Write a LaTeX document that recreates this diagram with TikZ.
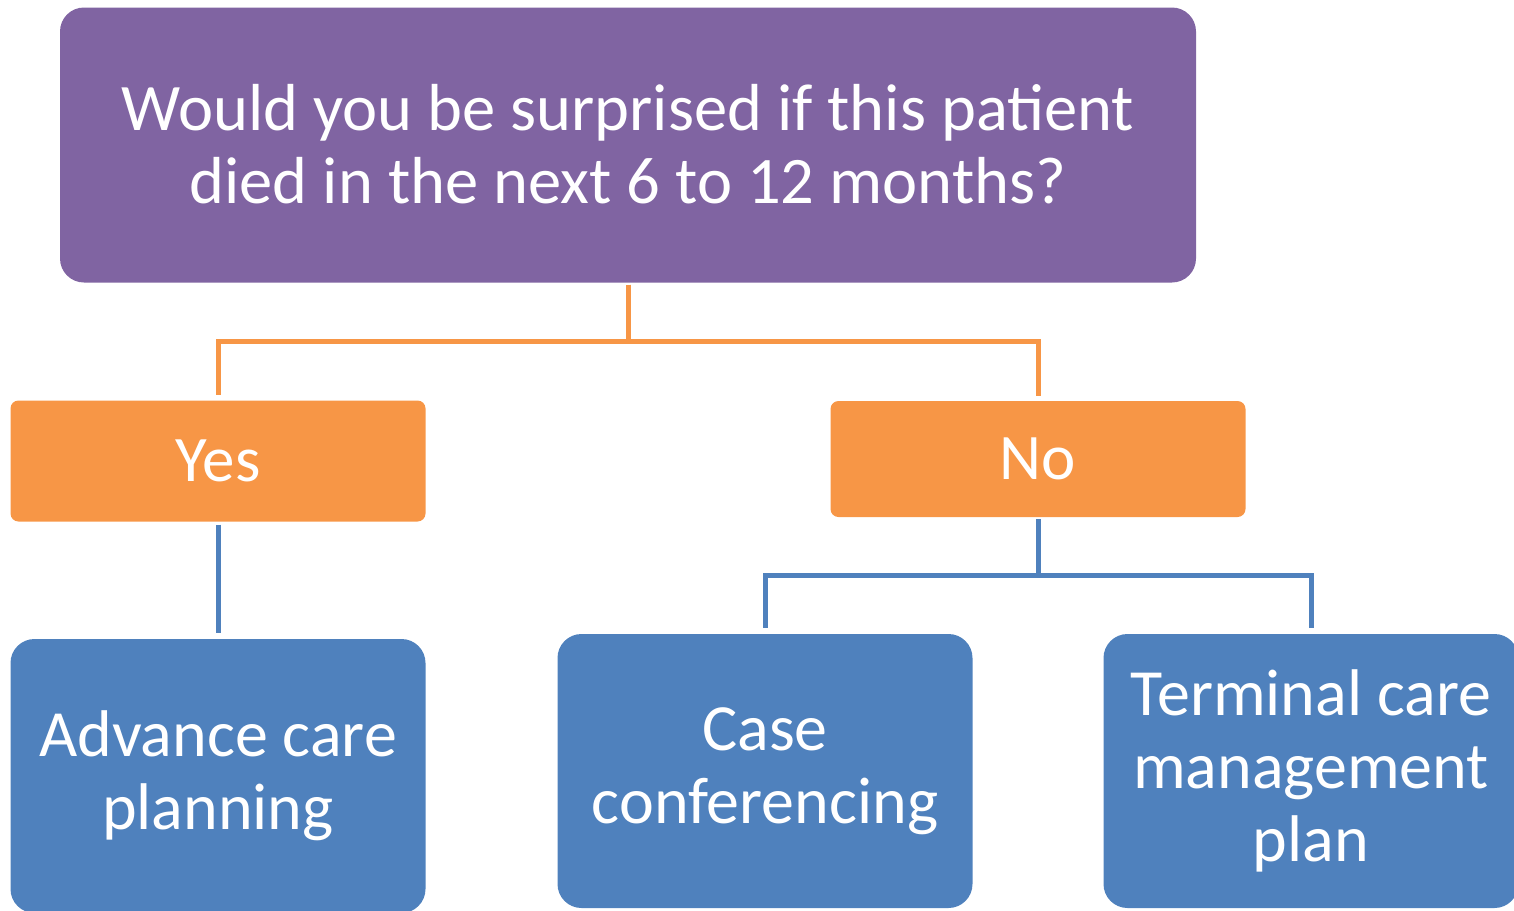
\documentclass[tikz,border=0pt]{standalone}
\usepackage{fontspec}
\setmainfont{Carlito}
\usetikzlibrary{positioning}
\definecolor{qpurple}{HTML}{8064A2}
\definecolor{ansorange}{HTML}{F79646}
\definecolor{actblue}{HTML}{4F81BD}
\tikzset{
  box/.style={text=white,align=center,inner sep=0pt},
  question/.style={box,fill=qpurple,rounded corners=24pt,minimum width=1136pt,minimum height=275pt,font=\fontsize{66.5}{73}\selectfont},
  answer/.style={box,fill=ansorange,rounded corners=8pt,minimum width=415pt,font=\fontsize{65}{73}\selectfont},
  action/.style={box,fill=actblue,rounded corners=24pt,minimum width=415pt,minimum height=274pt,font=\fontsize{66}{73}\selectfont},
  orangelink/.style={draw=ansorange,line width=5pt},
  bluelink/.style={draw=actblue,line width=5pt}
}

\begin{document}
\begin{tikzpicture}[x=1pt,y=-1pt]
\clip (0,0) rectangle (1514,910);
\node[question] (q) at (628,145) {\raisebox{3pt}{Would you be surprised if this patient}\\\raisebox{3pt}{died in the next 6 to 12 months?}};
\node[answer,minimum height=121pt] (yes) at (218,461) {Yes};
\node[answer,minimum height=116pt] (no) at (1038,459) {No};
\node[action] (adv) at (218,776) {Advance care\\planning};
\node[action] (case) at (765,771) {Case\\conferencing};
\node[action] (term) at (1311,771) {Terminal care\\management\\plan};
% connectors
\coordinate (qbar) at (628,341);
\coordinate (nobar) at (1038,575);
\draw[orangelink,shorten <=2pt,shorten >=5pt] (q.south) -- (qbar) -| (yes.north);
\draw[orangelink,shorten <=2pt,shorten >=5pt] (q.south) -- (qbar) -| (no.north);
\draw[bluelink,shorten <=3pt,shorten >=6pt] (yes.south) -- (adv.north);
\draw[bluelink,shorten <=2pt,shorten >=6pt] (no.south) -- (nobar) -| (case.north);
\draw[bluelink,shorten <=2pt,shorten >=6pt] (no.south) -- (nobar) -| (term.north);
\end{tikzpicture}
\end{document}
